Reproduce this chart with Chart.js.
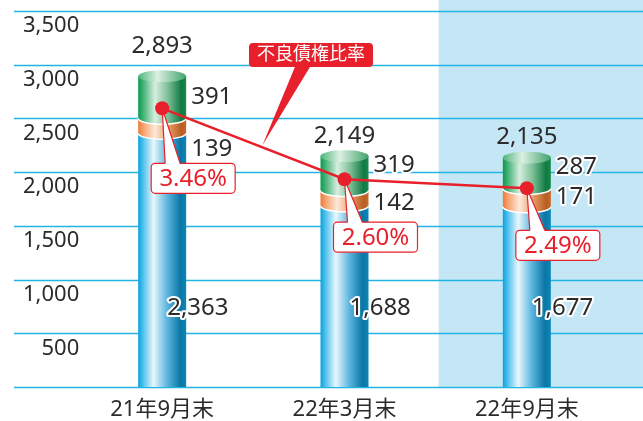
<!DOCTYPE html>
<html lang="ja">
<head>
<meta charset="utf-8">
<script src="https://cdn.jsdelivr.net/npm/chart.js@4.4.1/dist/chart.umd.min.js"></script>
<style>
html, body { margin: 0; padding: 0; background: #fff; }
#wrap { width: 643px; height: 421px; position: relative; }
</style>
</head>
<body>
<div id="wrap"><canvas id="chart"></canvas></div>
<script>
// 期末
var labels = ['21年9月末', '22年3月末', '22年9月末'];
// 内訳（下段・中段・上段）
var baseVals = [2363, 1688, 1677];
var midVals = [139, 142, 171];
var topVals = [391, 319, 287];
// 不良債権比率（%）
var ratioVals = [3.46, 2.60, 2.49];
// 目盛り
var yTicks = [0, 500, 1000, 1500, 2000, 2500, 3000, 3500];

var FONT = '"Noto Sans", "Noto Sans CJK JP", sans-serif';
var TEXT = '#2b2b2b';
var RED = '#e8202b';
var RY = 6;

var blueStops = [[0, '#06a3df'], [0.12, '#5cc5ee'], [0.32, '#e8f7fd'], [0.6, '#5db6df'], [0.88, '#0a76a6'], [1, '#0b86b8']];
var orangeStops = [[0, '#ee7a36'], [0.12, '#f6a574'], [0.35, '#fde9da'], [0.62, '#e9a06b'], [0.9, '#b85e22'], [1, '#c8692a']];
var greenStops = [[0, '#0b9a4e'], [0.12, '#4db57c'], [0.35, '#d7eedf'], [0.62, '#7dbf97'], [0.9, '#0f7a42'], [1, '#168a4c']];
var capStops = [[0, '#4fb57c'], [0.4, '#dcf0e2'], [1, '#3fa36b']];

function grad(ctx, x0, x1, stops) {
  var g = ctx.createLinearGradient(x0, 0, x1, 0);
  stops.forEach(function (s) { g.addColorStop(s[0], s[1]); });
  return g;
}

function fmt(n) { return n.toLocaleString('en-US'); }

function haloText(ctx, txt, x, y, align) {
  ctx.textAlign = align;
  ctx.textBaseline = 'middle';
  ctx.lineJoin = 'round';
  ctx.lineWidth = 4;
  ctx.strokeStyle = '#fff';
  ctx.strokeText(txt, x, y);
  ctx.fillStyle = TEXT;
  ctx.fillText(txt, x, y);
}

// 円柱の1段
function drawSeg(ctx, el, stops, bulge) {
  var l = el.x - el.width / 2, r = el.x + el.width / 2;
  var top = Math.min(el.y, el.base), bottom = Math.max(el.y, el.base);
  ctx.save();
  ctx.fillStyle = grad(ctx, l, r, stops);
  ctx.beginPath();
  ctx.moveTo(l, top);
  ctx.lineTo(l, bottom);
  if (bulge) {
    ctx.ellipse(el.x, bottom, el.width / 2, RY, 0, Math.PI, 0, true);
  } else {
    ctx.lineTo(r, bottom);
  }
  ctx.lineTo(r, top);
  ctx.closePath();
  ctx.fill();
  if (bulge) {
    ctx.beginPath();
    ctx.ellipse(el.x, bottom, el.width / 2, RY, 0, Math.PI, 0, true);
    ctx.strokeStyle = '#fff';
    ctx.lineWidth = 1.5;
    ctx.stroke();
  }
  ctx.restore();
}

var deco = {
  id: 'deco',
  beforeDatasetsDraw: function (chart) {
    var ctx = chart.ctx, xs = chart.scales.x, ys = chart.scales.y;
    var base = ys.getPixelForValue(0);
    ctx.save();
    // 最新期の背景
    var sx = xs.getPixelForValue(1.5) + 3;
    ctx.fillStyle = '#c5e7f5';
    ctx.fillRect(sx, 0, chart.width - sx, base);
    // 横線
    ctx.strokeStyle = '#22b4e4';
    ctx.lineWidth = 1.3;
    ys.ticks.forEach(function (t) {
      var y = Math.round(ys.getPixelForValue(t.value)) + 0.5;
      ctx.beginPath();
      ctx.moveTo(14, y);
      ctx.lineTo(chart.width, y);
      ctx.stroke();
    });
    ctx.restore();
  },
  beforeDatasetDraw: function (chart, args) {
    if (args.meta.type !== 'line') return;
    var ctx = chart.ctx;
    var m0 = chart.getDatasetMeta(0).data, m1 = chart.getDatasetMeta(1).data, m2 = chart.getDatasetMeta(2).data;
    for (var i = 0; i < labels.length; i++) {
      drawSeg(ctx, m0[i], blueStops, false);
      drawSeg(ctx, m1[i], orangeStops, true);
      drawSeg(ctx, m2[i], greenStops, true);
      var g = m2[i];
      ctx.save();
      ctx.fillStyle = grad(ctx, g.x - g.width / 2, g.x + g.width / 2, capStops);
      ctx.beginPath();
      ctx.ellipse(g.x, g.y, g.width / 2, RY, 0, 0, Math.PI * 2);
      ctx.fill();
      ctx.restore();
    }
    // 比率の吹き出し
    var pts = args.meta.data;
    var boxDy = [55, 43, 42];
    ctx.save();
    ctx.font = '24px ' + FONT;
    pts.forEach(function (p, i) {
      var l = p.x - 11, t = p.y + boxDy[i], w = 84, h = 30;
      ctx.fillStyle = '#fff';
      ctx.strokeStyle = RED;
      ctx.lineWidth = 1.2;
      ctx.beginPath();
      ctx.roundRect(l, t, w, h, 4);
      ctx.fill();
      ctx.stroke();
      ctx.beginPath();
      ctx.moveTo(l + 29, t + 1);
      ctx.lineTo(p.x, p.y);
      ctx.lineTo(l + 14, t + 1);
      ctx.closePath();
      ctx.fill();
      ctx.beginPath();
      ctx.moveTo(l + 29, t);
      ctx.lineTo(p.x, p.y);
      ctx.lineTo(l + 14, t);
      ctx.stroke();
      ctx.fillStyle = RED;
      ctx.textAlign = 'center';
      ctx.textBaseline = 'middle';
      ctx.fillText(ratioVals[i].toFixed(2) + '%', l + w / 2, t + h / 2 + 1);
    });
    ctx.restore();
  },
  afterDatasetsDraw: function (chart) {
    var ctx = chart.ctx, ys = chart.scales.y;
    var m0 = chart.getDatasetMeta(0).data, m1 = chart.getDatasetMeta(1).data, m2 = chart.getDatasetMeta(2).data;
    var totalNudge = [-10, 0, 0];
    var topNudge = [0, -8, -6];
    var midNudge = [23, 5, -1];
    ctx.save();
    ctx.font = '24px ' + FONT;
    for (var i = 0; i < labels.length; i++) {
      var b = m0[i], o = m1[i], g = m2[i];
      var right = g.x + g.width / 2 + 5;
      var total = baseVals[i] + midVals[i] + topVals[i];
      ctx.fillStyle = TEXT;
      ctx.textAlign = 'center';
      ctx.textBaseline = 'middle';
      ctx.fillText(fmt(total), g.x, g.y - RY - 14 + totalNudge[i]);
      haloText(ctx, fmt(topVals[i]), right, (g.y + g.base) / 2 + topNudge[i], 'left');
      haloText(ctx, fmt(midVals[i]), right, (o.y + o.base) / 2 + midNudge[i], 'left');
      haloText(ctx, fmt(baseVals[i]), b.x + 5, ys.getPixelForValue(730), 'left');
    }
    // 凡例の吹き出し
    var pts = chart.getDatasetMeta(3).data;
    var tipX = pts[0].x + (pts[1].x - pts[0].x) * 0.55;
    var tipY = pts[0].y + (pts[1].y - pts[0].y) * 0.55;
    ctx.fillStyle = RED;
    ctx.beginPath();
    ctx.moveTo(297, 62);
    ctx.lineTo(313, 62);
    ctx.lineTo(tipX, tipY - 2);
    ctx.closePath();
    ctx.fill();
    ctx.beginPath();
    ctx.roundRect(249, 43, 124, 24, 4);
    ctx.fill();
    ctx.fillStyle = '#fff';
    ctx.font = '18px ' + FONT;
    ctx.textAlign = 'center';
    ctx.textBaseline = 'middle';
    ctx.fillText('不良債権比率', 311, 55);
    ctx.restore();
  }
};

var clear = 'rgba(0,0,0,0)';
var ctx = document.getElementById('chart');
var myChart = new Chart(ctx, {
  type: 'bar',
  data: {
    labels: labels,
    datasets: [
      { label: 'base', data: baseVals, backgroundColor: clear, barThickness: 48, stack: 's', order: 1 },
      { label: 'mid', data: midVals, backgroundColor: clear, barThickness: 48, stack: 's', order: 1 },
      { label: 'top', data: topVals, backgroundColor: clear, barThickness: 48, stack: 's', order: 1 },
      {
        type: 'line', label: '不良債権比率', data: ratioVals, yAxisID: 'y2', order: 0,
        borderColor: RED, borderWidth: 2.5, tension: 0,
        pointRadius: 7, pointBackgroundColor: RED, pointBorderWidth: 0
      }
    ]
  },
  options: {
    responsive: true,
    maintainAspectRatio: false,
    animation: false,
    layout: { padding: { top: 11, right: 25, left: 0, bottom: 0 } },
    plugins: { legend: { display: false }, tooltip: { enabled: false } },
    scales: {
      x: {
        stacked: true,
        grid: { display: false, drawTicks: false },
        border: { display: false },
        ticks: { color: TEXT, font: { size: 22, family: FONT }, padding: 10 },
        afterFit: function (a) { a.height = 34; a.paddingLeft = 0; a.paddingRight = 0; }
      },
      y: {
        stacked: true,
        min: 0, max: 3500,
        grid: { display: false, drawTicks: false },
        border: { display: false },
        afterBuildTicks: function (a) { a.ticks = yTicks.map(function (v) { return { value: v }; }); },
        ticks: {
          color: TEXT, font: { size: 22, family: FONT }, labelOffset: 15,
          mirror: true, crossAlign: 'far',
          padding: -48,
          callback: function (v) { return v === 0 ? '' : fmt(v); }
        },
        afterFit: function (a) { a.width = 71; a.paddingTop = 0; a.paddingBottom = 0; }
      },
      y2: { display: false, min: 0.08, max: 4.64 }
    }
  },
  plugins: [deco]
});
</script>
</body>
</html>
